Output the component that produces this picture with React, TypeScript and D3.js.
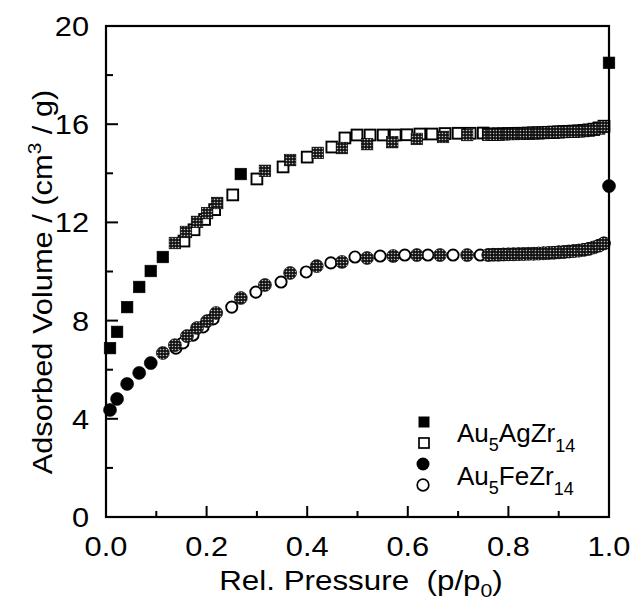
import React from 'react';
import * as d3 from 'd3';

// ---- axis ticks ----
const xTicksMajor = [0, 0.2, 0.4, 0.6, 0.8, 1.0];
const xTickLabels = ['0.0', '0.2', '0.4', '0.6', '0.8', '1.0'];
const xTicksMinor = [0.1, 0.3, 0.5, 0.7, 0.9];
const yTicksMajor = [0, 4, 8, 12, 16, 20];
const yTickLabels = ['0', '4', '8', '12', '16', '20'];
const yTicksMinor = [2, 6, 10, 14, 18];

// ---- Au5AgZr14 adsorption (filled squares) ----
const agAdsX = [0.008, 0.022, 0.042, 0.066, 0.089, 0.113, 0.137, 0.159, 0.181, 0.201, 0.221, 0.268, 0.316, 0.366, 0.421, 0.469, 0.519, 0.569, 0.618, 0.670, 0.718,
  0.76, 0.77, 0.78, 0.79, 0.80, 0.81, 0.82, 0.83, 0.84, 0.85, 0.86, 0.87, 0.88, 0.89, 0.90, 0.91, 0.92, 0.93, 0.94, 0.95, 0.96, 0.97, 0.98, 0.99, 1.0];
const agAdsY = [6.88, 7.54, 8.55, 9.37, 10.02, 10.59, 11.16, 11.61, 12.02, 12.38, 12.79, 13.97, 14.1, 14.54, 14.83, 15.03, 15.19, 15.27, 15.4, 15.48, 15.56,
  15.57, 15.58, 15.58, 15.59, 15.6, 15.6, 15.61, 15.61, 15.62, 15.63, 15.63, 15.64, 15.65, 15.66, 15.67, 15.68, 15.69, 15.7, 15.71, 15.72, 15.74, 15.77, 15.83, 15.9, 18.5];

// ---- Au5AgZr14 desorption (open squares) ----
const agDesX = [0.155, 0.175, 0.196, 0.216, 0.252, 0.300, 0.352, 0.400, 0.449, 0.475, 0.499, 0.525, 0.551, 0.575, 0.598, 0.624, 0.648, 0.674, 0.700, 0.724, 0.750,
  0.76, 0.77, 0.78, 0.79, 0.80, 0.81, 0.82, 0.83, 0.84, 0.85, 0.86, 0.87, 0.88, 0.89, 0.90, 0.91, 0.92, 0.93, 0.94, 0.95, 0.96, 0.97, 0.98, 0.99];
const agDesY = [11.24, 11.7, 12.12, 12.52, 13.12, 13.77, 14.26, 14.66, 15.07, 15.44, 15.56, 15.56, 15.56, 15.56, 15.57, 15.6, 15.6, 15.62, 15.63, 15.63, 15.64,
  15.6, 15.6, 15.61, 15.61, 15.62, 15.62, 15.63, 15.63, 15.64, 15.65, 15.65, 15.66, 15.67, 15.68, 15.69, 15.7, 15.71, 15.72, 15.73, 15.75, 15.77, 15.8, 15.85, 15.92];

// ---- Au5FeZr14 adsorption (filled circles) ----
const feAdsX = [0.008, 0.022, 0.042, 0.066, 0.089, 0.113, 0.137, 0.161, 0.181, 0.201, 0.219, 0.268, 0.316, 0.366, 0.419, 0.469, 0.519, 0.571, 0.618, 0.664, 0.718,
  0.76, 0.77, 0.78, 0.79, 0.80, 0.81, 0.82, 0.83, 0.84, 0.85, 0.86, 0.87, 0.88, 0.89, 0.90, 0.91, 0.92, 0.93, 0.94, 0.95, 0.96, 0.97, 0.98, 0.99, 1.0];
const feAdsY = [4.36, 4.81, 5.42, 5.87, 6.27, 6.68, 7.0, 7.37, 7.7, 7.98, 8.31, 8.92, 9.45, 9.94, 10.22, 10.39, 10.55, 10.63, 10.67, 10.67, 10.67,
  10.67, 10.68, 10.68, 10.69, 10.7, 10.7, 10.71, 10.71, 10.72, 10.72, 10.73, 10.74, 10.75, 10.76, 10.78, 10.79, 10.81, 10.83, 10.85, 10.88, 10.92, 10.98, 11.05, 11.14, 13.48];

// ---- Au5FeZr14 desorption (open circles) ----
const feDesX = [0.139, 0.153, 0.173, 0.193, 0.213, 0.250, 0.298, 0.348, 0.398, 0.447, 0.495, 0.545, 0.594, 0.640, 0.690, 0.744,
  0.76, 0.77, 0.78, 0.79, 0.80, 0.81, 0.82, 0.83, 0.84, 0.85, 0.86, 0.87, 0.88, 0.89, 0.90, 0.91, 0.92, 0.93, 0.94, 0.95, 0.96, 0.97, 0.98, 0.99];
const feDesY = [6.88, 7.09, 7.41, 7.74, 8.07, 8.55, 9.16, 9.57, 9.98, 10.35, 10.59, 10.63, 10.67, 10.67, 10.67, 10.67,
  10.68, 10.69, 10.69, 10.7, 10.7, 10.71, 10.71, 10.72, 10.72, 10.73, 10.74, 10.75, 10.76, 10.77, 10.79, 10.8, 10.82, 10.84, 10.86, 10.89, 10.93, 10.99, 11.06, 11.16];

const FONT = '"Liberation Sans", Arial, Helvetica, sans-serif';

const W = 631;
const H = 612;
const x = d3.scaleLinear().domain([0, 1]).range([106, 609]);
const y = d3.scaleLinear().domain([0, 20]).range([517, 26]);

type P = { px: number; py: number };
const toPts = (xs: number[], ys: number[]): P[] => xs.map((v, i) => ({ px: x(v), py: y(ys[i]) }));

function nearDist(p: P, others: P[]) {
  let m = Infinity;
  for (const o of others) m = Math.min(m, Math.hypot(o.px - p.px, o.py - p.py));
  return m;
}

const SX = 1.14; // horizontal stretch of the printed lettering

export default function App() {
  const agAds = toPts(agAdsX, agAdsY);
  const agDes = toPts(agDesX, agDesY);
  const feAds = toPts(feAdsX, feAdsY);
  const feDes = toPts(feDesX, feDesY);
  const THR = 14;
  const sq = 11.6;
  const osq = 10.8;
  const r = 6.5;
  const or = 5.6;

  return (
    <svg width={W} height={H} style={{ position: 'absolute', left: 0, top: 0, background: '#fff' }} fontFamily={FONT}>
      <defs>
        <pattern id="ht" width={3} height={3} patternUnits="userSpaceOnUse">
          <rect width={3} height={3} fill="#141414" />
          <circle cx={1.5} cy={1.5} r={0.8} fill="#c0c0c0" />
        </pattern>
      </defs>
      <rect x={0} y={0} width={W} height={H} fill="#fff" />

      {/* open squares */}
      {agDes.map((p, i) => (
        <rect key={'ado' + i} x={p.px - osq / 2} y={p.py - osq / 2} width={osq} height={osq} fill="#fff" stroke="#000" strokeWidth={1.9} />
      ))}
      {/* filled squares */}
      {agAds.map((p, i) => (
        <rect key={'adf' + i} x={p.px - sq / 2} y={p.py - sq / 2} width={sq} height={sq}
          fill={nearDist(p, agDes) < THR ? 'url(#ht)' : '#000'} stroke="#000" strokeWidth={0.6} />
      ))}
      {/* open circles */}
      {feDes.map((p, i) => (
        <circle key={'fdo' + i} cx={p.px} cy={p.py} r={or} fill="#fff" stroke="#000" strokeWidth={1.9} />
      ))}
      {/* filled circles */}
      {feAds.map((p, i) => (
        <circle key={'fdf' + i} cx={p.px} cy={p.py} r={r}
          fill={nearDist(p, feDes) < THR ? 'url(#ht)' : '#000'} stroke="#000" strokeWidth={0.6} />
      ))}

      {/* frame */}
      <rect x={x(0)} y={y(20)} width={x(1) - x(0)} height={y(0) - y(20)} fill="none" stroke="#000" strokeWidth={2.2} />

      {/* x ticks */}
      {xTicksMajor.filter((t) => t > 0 && t < 1).map((t) => (
        <line key={'xm' + t} x1={x(t)} x2={x(t)} y1={y(0)} y2={y(0) - 11} stroke="#000" strokeWidth={2} />
      ))}
      {xTicksMinor.map((t) => (
        <line key={'xn' + t} x1={x(t)} x2={x(t)} y1={y(0)} y2={y(0) - 6} stroke="#000" strokeWidth={2} />
      ))}
      {xTicksMajor.map((t, i) => (
        <g key={'xl' + t} transform={`translate(${x(t)},556) scale(${SX},1)`}>
          <text x={0} y={0} textAnchor="middle" fontSize={27}>{xTickLabels[i]}</text>
        </g>
      ))}

      {/* y ticks */}
      {yTicksMajor.filter((t) => t > 0 && t < 20).map((t) => (
        <line key={'ym' + t} x1={x(0)} x2={x(0) + 12} y1={y(t)} y2={y(t)} stroke="#000" strokeWidth={2} />
      ))}
      {yTicksMinor.map((t) => (
        <line key={'yn' + t} x1={x(0)} x2={x(0) + 7} y1={y(t)} y2={y(t)} stroke="#000" strokeWidth={2} />
      ))}
      {yTicksMajor.map((t, i) => (
        <g key={'yl' + t} transform={`translate(89,${y(t) + 10}) scale(${SX},1)`}>
          <text x={0} y={0} textAnchor="end" fontSize={27}>{yTickLabels[i]}</text>
        </g>
      ))}

      {/* axis titles */}
      <g transform={`translate(361,590) scale(1.12,1)`}>
        <text x={0} y={0} textAnchor="middle" fontSize={28} style={{ whiteSpace: 'pre' }}>
          Rel. Pressure  (p/p<tspan fontSize={19} dy={7}>0</tspan><tspan dy={-7}>)</tspan>
        </text>
      </g>
      <g transform={`translate(52,282) rotate(-90) scale(1.1,1)`}>
        <text x={0} y={0} textAnchor="middle" fontSize={28}>
          Adsorbed Volume / (cm<tspan fontSize={19} dy={-11}>3</tspan><tspan dy={11}> / g)</tspan>
        </text>
      </g>

      {/* legend */}
      <rect x={424 - 5.5} y={422 - 5.5} width={11} height={11} fill="#000" />
      <rect x={424 - 5} y={443 - 5} width={10} height={10} fill="#fff" stroke="#000" strokeWidth={1.7} />
      <circle cx={423} cy={464} r={6.5} fill="#000" />
      <circle cx={423} cy={485} r={5.8} fill="#fff" stroke="#000" strokeWidth={1.7} />
      <text x={457} y={442} fontSize={26}>
        Au<tspan fontSize={18} dy={9}>5</tspan><tspan dy={-9}>AgZr</tspan><tspan fontSize={18} dy={10}>14</tspan>
      </text>
      <text x={457} y={485} fontSize={26}>
        Au<tspan fontSize={18} dy={9}>5</tspan><tspan dy={-9}>FeZr</tspan><tspan fontSize={18} dy={10}>14</tspan>
      </text>
    </svg>
  );
}
